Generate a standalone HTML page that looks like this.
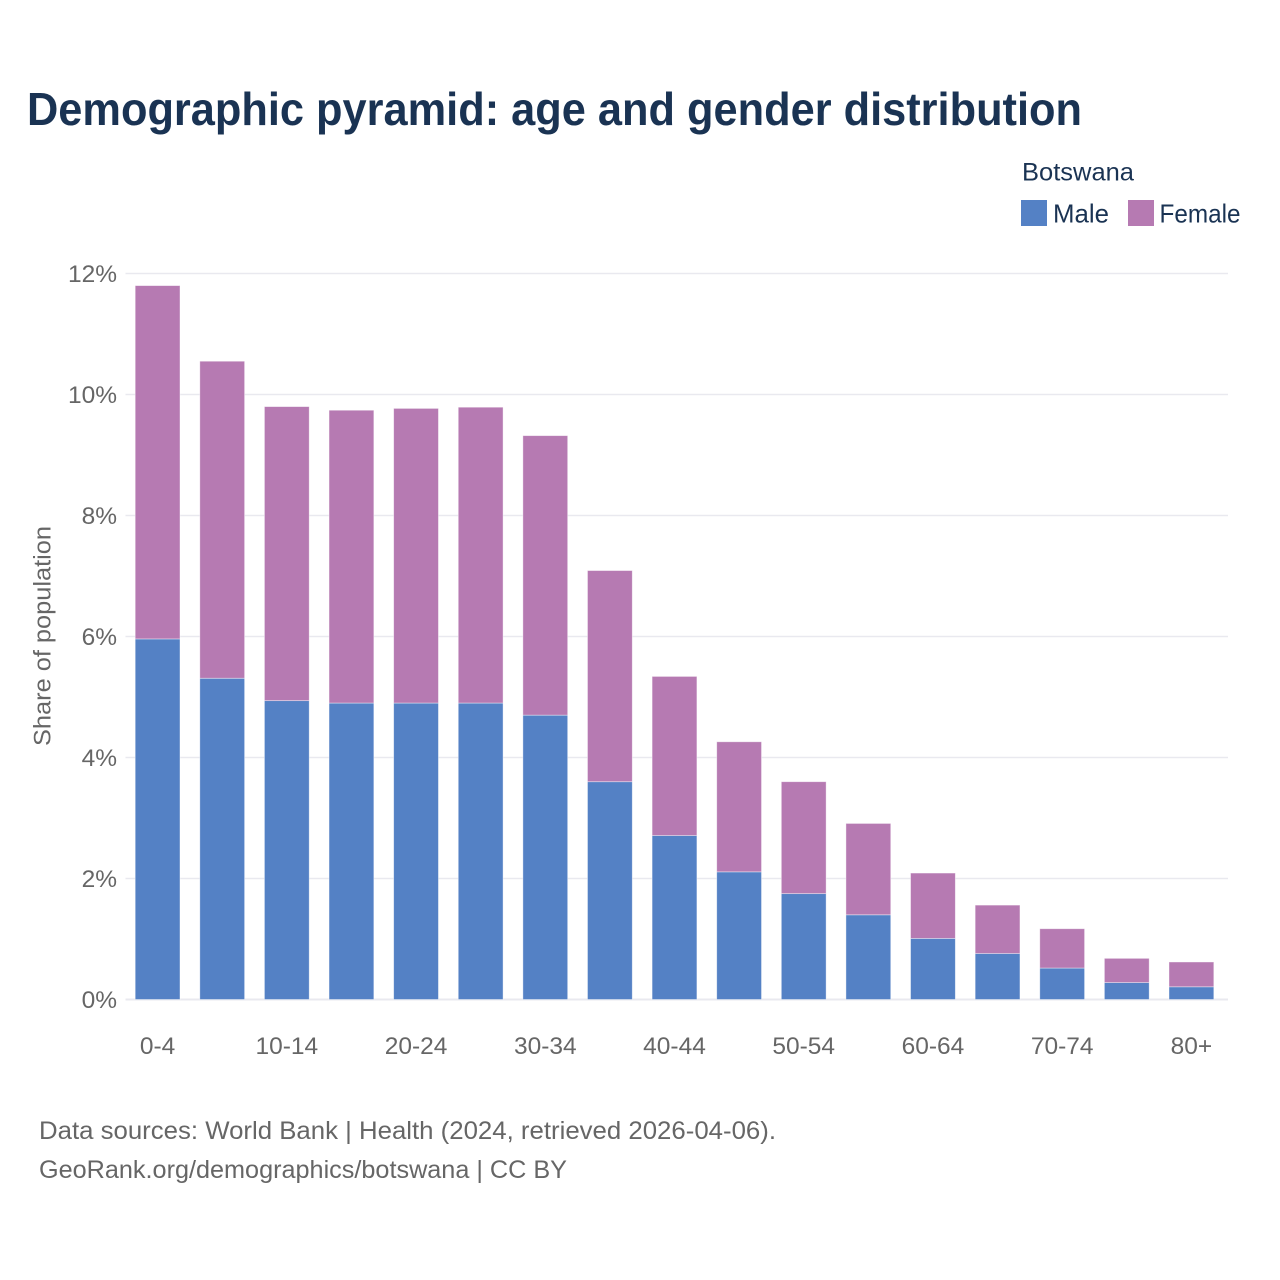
<!DOCTYPE html>
<html lang="en">
<head>
<meta charset="utf-8">
<title>Demographic pyramid</title>
<style>
html,body{margin:0;padding:0;background:#fff;}
svg{display:block;}
text{font-family:"Liberation Sans",sans-serif;}
</style>
</head>
<body>
<svg id="chart" xmlns="http://www.w3.org/2000/svg" width="1280" height="1280" viewBox="0 0 1280 1280">
  <rect width="1280" height="1280" fill="#ffffff"/>
  <text x="27" y="125" font-size="46" font-weight="700" fill="#1a3353" textLength="1055" lengthAdjust="spacingAndGlyphs">Demographic pyramid: age and gender distribution</text>
  <text x="1022" y="180.5" font-size="25" fill="#1a3353" textLength="112" lengthAdjust="spacingAndGlyphs">Botswana</text>
  <rect x="1021" y="200" width="26" height="26" fill="#5481c5"/>
  <text x="1053" y="222.5" font-size="26" fill="#1a3353" textLength="56" lengthAdjust="spacingAndGlyphs">Male</text>
  <rect x="1128" y="200" width="26" height="26" fill="#b67ab2"/>
  <text x="1159.5" y="222.5" font-size="26" fill="#1a3353" textLength="81" lengthAdjust="spacingAndGlyphs">Female</text>
  <g id="grid"></g>
  <g id="bars"></g>
  <g id="yticks"></g>
  <g id="xticks"></g>
  <text transform="translate(50.5,636) rotate(-90)" text-anchor="middle" font-size="24" fill="#666666" textLength="220" lengthAdjust="spacingAndGlyphs">Share of population</text>
  <text x="39" y="1139" font-size="25" fill="#666666" textLength="737" lengthAdjust="spacingAndGlyphs">Data sources: World Bank | Health (2024, retrieved 2026-04-06).</text>
  <text x="39" y="1178" font-size="25" fill="#666666" textLength="528" lengthAdjust="spacingAndGlyphs">GeoRank.org/demographics/botswana | CC BY</text>
</svg>
<script>
const ageGroups = ["0-4","5-9","10-14","15-19","20-24","25-29","30-34","35-39","40-44","45-49","50-54","55-59","60-64","65-69","70-74","75-79","80+"];
const maleShare = [5.96,5.31,4.94,4.90,4.90,4.90,4.70,3.60,2.71,2.11,1.75,1.40,1.01,0.76,0.52,0.28,0.21];
const femaleShare = [5.84,5.24,4.86,4.84,4.87,4.89,4.62,3.49,2.63,2.15,1.85,1.51,1.08,0.80,0.65,0.40,0.41];
const yTickValues = [0,2,4,6,8,10,12];
const xTickLabels = ["0-4","10-14","20-24","30-34","40-44","50-54","60-64","70-74","80+"];

const NS = "http://www.w3.org/2000/svg";
const gridLeft = 125.5, gridRight = 1228, plotBase = 999.5, plotTop = 273.5, yMax = 12;
const firstCenter = 157.6, lastCenter = 1191.4;
const step = (lastCenter - firstCenter) / (ageGroups.length - 1);
const barWidth = 44.8;
function yScale(v){ return plotBase - (v / yMax) * (plotBase - plotTop); }
function xScale(cat){ return firstCenter + step * ageGroups.indexOf(cat); }
function make(tag, attrs, parent, txt){
  const el = document.createElementNS(NS, tag);
  for (const k in attrs) el.setAttribute(k, attrs[k]);
  if (txt !== undefined) el.textContent = txt;
  parent.appendChild(el);
  return el;
}
const gridG = document.getElementById("grid");
const barsG = document.getElementById("bars");
const yG = document.getElementById("yticks");
const xG = document.getElementById("xticks");

yTickValues.forEach(function(v){
  const line = make("line", {x1: gridLeft, x2: gridRight, y1: yScale(v), y2: yScale(v), stroke: "#e9e9ef", "stroke-width": v === 0 ? 2 : 1.4}, gridG);
  
  
  const t = make("text", {x: 117, y: yScale(v) + 8.5, "text-anchor": "end", "font-size": 24.5, fill: "#666666"}, yG, v + "%");
  
  
});

ageGroups.forEach(function(cat, i){
  const cx = xScale(cat);
  const m = maleShare[i], f = femaleShare[i];
  const rm = make("rect", {x: cx - barWidth / 2, y: yScale(m), width: barWidth, height: yScale(0) - yScale(m), fill: "#5481c5", stroke: "#ffffff", "stroke-opacity": 0.5, "stroke-width": 0.8}, barsG);
  
  
  const rf = make("rect", {x: cx - barWidth / 2, y: yScale(m + f), width: barWidth, height: yScale(m) - yScale(m + f), fill: "#b67ab2", stroke: "#ffffff", "stroke-opacity": 0.5, "stroke-width": 0.8}, barsG);
  
  
});

xTickLabels.forEach(function(lab){
  const t = make("text", {x: xScale(lab), y: 1054, "text-anchor": "middle", "font-size": 24.5, fill: "#666666"}, xG, lab);
  
  
});
</script>
</body>
</html>
